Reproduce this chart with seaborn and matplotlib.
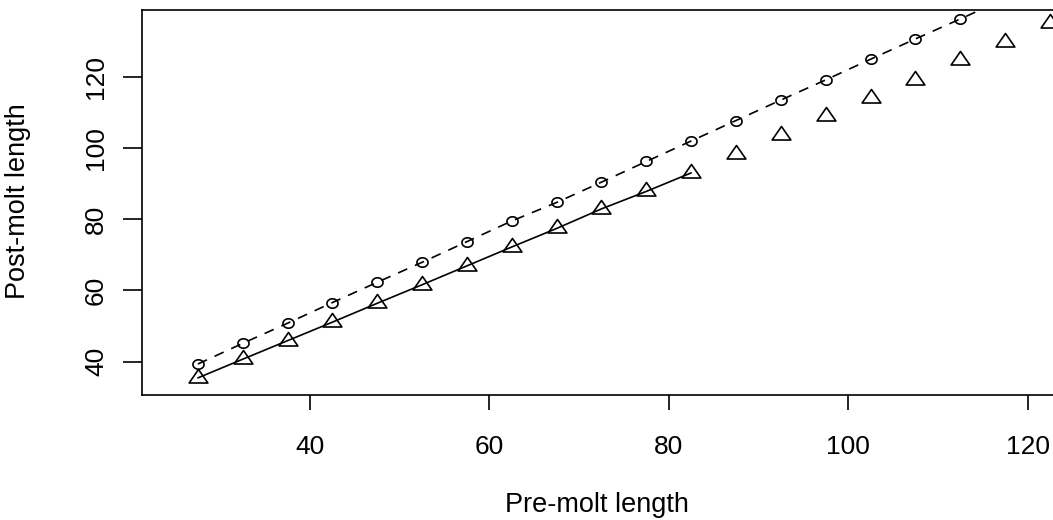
import numpy as np
import pandas as pd
import seaborn as sns
import matplotlib
matplotlib.use("Agg")
import matplotlib.pyplot as plt
from matplotlib.path import Path

# values
pre_molt = [27.5, 32.5, 37.5, 42.5, 47.5, 52.5, 57.5, 62.5, 67.5, 72.5,
            77.5, 82.5, 87.5, 92.5, 97.5, 102.5, 107.5, 112.5, 117.5, 122.5]
post_circle = [39.35, 45.15, 50.8, 56.6, 62.3, 67.9, 73.7, 79.5, 84.7, 90.4,
               96.2, 101.95, 107.7, 113.45, 119.1, 124.9, 130.6, 136.2, 141.9, 147.6]
post_triangle = [35.45, 40.7, 45.9, 51.1, 56.4, 61.6, 66.9, 72.2, 77.4, 82.9,
                 87.8, 93.0, 98.3, 103.6, 108.9, 114.0, 119.2, 124.6, 129.8, 135.1]
n_joined = 12  # triangles joined by the solid line (up to 82.5)

x_ticks = [40, 60, 80, 100, 120]
y_ticks = [40, 60, 80, 100, 120]

df = pd.DataFrame({"pre": pre_molt, "circle": post_circle, "triangle": post_triangle})

sns.set_style("ticks")
plt.rcParams["font.family"] = ["Liberation Sans", "DejaVu Sans"]
for key in ["text.color", "axes.edgecolor", "axes.labelcolor", "xtick.color", "ytick.color"]:
    plt.rcParams[key] = "black"

# R-like open markers (slightly wider than tall, like the reference)
tri = [(0, 8.67), (9, -4.33), (-9, -4.33), (0, 8.67)]
tri_marker = Path(tri, closed=True)
t = np.linspace(0, 2 * np.pi, 41)
circ_marker = Path(np.column_stack([5.2 * np.cos(t), 4.4 * np.sin(t)]))

fig = plt.figure(figsize=(10.53, 5.20), dpi=100)
ax = fig.add_axes([142 / 1053, 125 / 520, 911 / 1053, 385 / 520])

lw = 1.2
sns.lineplot(data=df, x="pre", y="circle", ax=ax, color="black", lw=lw,
             linestyle=(0, (6, 5)), marker=circ_marker, markersize=8,
             markerfacecolor="none", markeredgecolor="black", markeredgewidth=lw)
sns.lineplot(data=df.iloc[:n_joined], x="pre", y="triangle", ax=ax,
             color="black", lw=lw)
sns.lineplot(data=df, x="pre", y="triangle", ax=ax, color="black", linestyle="",
             marker=tri_marker, markersize=13.5,
             markerfacecolor="none", markeredgecolor="black", markeredgewidth=lw)

ax.set_xlim(21.27, 122.84)
ax.set_ylim(30.65, 138.72)
ax.set_xticks(x_ticks)
ax.set_yticks(y_ticks)
ax.set_xlabel("")
ax.set_ylabel("")
ax.spines["right"].set_visible(False)
for s in ["left", "top", "bottom"]:
    ax.spines[s].set_linewidth(lw)
ax.tick_params(axis="x", length=10.5, width=lw, pad=18.5, labelsize=19)
ax.tick_params(axis="y", length=13.5, width=lw, pad=11, labelsize=19, labelrotation=90)
for lab in ax.get_yticklabels():
    lab.set_va("center")

fig.text(597 / 1053, 8.3 / 520, "Pre-molt length", ha="center", va="baseline", fontsize=19.5)
fig.text(25 / 1053, 1 - 201 / 520, "Post-molt length", ha="center", va="baseline",
         rotation=90, rotation_mode="anchor", fontsize=19.5)

fig.savefig("out.png", dpi=100)
